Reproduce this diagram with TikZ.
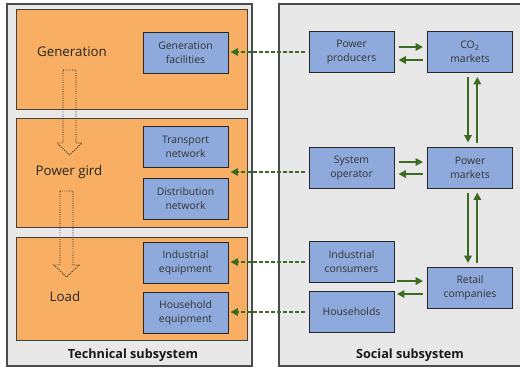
\documentclass[tikz,border=0pt]{standalone}
\usepackage{fontspec}
\setmainfont{Open Sans}
\usetikzlibrary{arrows.meta}
\definecolor{panelgray}{HTML}{E8E8E8}
\definecolor{techorange}{HTML}{F8AF63}
\definecolor{boxblue}{HTML}{8EA9DB}
\definecolor{linkgreen}{HTML}{3A6B21}
\tikzset{
  panel/.style={draw=black!70, fill=panelgray, line width=0.8pt},
  layer/.style={draw=black!75, fill=techorange, line width=0.75pt, minimum width=173.25pt, inner sep=0pt},
  unit/.style={draw=black!85, fill=boxblue, line width=0.75pt, minimum width=63.75pt, minimum height=30.75pt,
    align=center, font=\fontsize{7.8}{10.5}\selectfont, text=black!80, inner sep=1pt},
  flow/.style={linkgreen, line width=1.35pt, -{Triangle[length=5.5pt,width=5.5pt]}, shorten <=3pt, shorten >=3pt},
  couple/.style={linkgreen, line width=1.2pt, dash pattern=on 3pt off 1.5pt, -{Triangle[length=5.5pt,width=5.5pt]},
    shorten <=3pt, shorten >=1.5pt},
  hollow/.style={draw=black!85, densely dotted, line width=0.7pt},
  title/.style={font=\fontsize{10}{12}\selectfont, text=black!85},
  caption/.style={font=\fontsize{9.5}{12}\selectfont\bfseries, text=black!90}
}
\begin{document}
\begin{tikzpicture}[x=0.75pt, y=-0.75pt]
  \useasboundingbox (0,0) rectangle (520,368);
  % subsystems
  \begin{scope}
    \clip (0,0) rectangle (520,368);
    \draw[panel] (7,4) rectangle (252,366);
    \draw[panel] (279,4) rectangle (530,366);
  \end{scope}
  % technical layers
  \node[layer, minimum height=75pt] (gen) at (131.5,59) {};
  \node[layer, minimum height=81.75pt] (grid) at (131.5,172.5) {};
  \node[layer, minimum height=77.25pt] (load) at (131.5,288.5) {};
  \node[title] (genlbl) at (72,52) {Generation};
  \node[title] (gridlbl) at (69,172) {Power gird};
  \node[title] (loadlbl) at (65,296) {Load};
  \draw[hollow] (63,70) -- (76,70) -- (76,143) -- (82,143) -- (69.5,155) -- (57,143) -- (63,143) -- cycle;
  \draw[hollow] (60,191) -- (73,191) -- (73,265) -- (79,265) -- (66.5,277) -- (54,265) -- (60,265) -- cycle;
  % technical units
  \node[unit] (genfac) at (185.5,52.5) {Generation\\facilities};
  \node[unit] (trans) at (185.5,147) {Transport\\network};
  \node[unit] (dist) at (185.5,198.5) {Distribution\\network};
  \node[unit] (indeq) at (185.5,262.5) {Industrial\\equipment};
  \node[unit] (houseq) at (185.5,312.5) {Household\\equipment};
  \coordinate (gridin) at (185.5,172);
  % social actors
  \node[unit] (prod) at (351.5,52) {Power\\producers};
  \node[unit] (co2) at (470,52) {CO\textsubscript{2}\\markets};
  \node[unit] (sysop) at (351.5,167.5) {System\\operator};
  \node[unit] (pmkt) at (470,167.5) {Power\\markets};
  \node[unit] (indcons) at (351.5,262) {Industrial\\consumers};
  \node[unit] (house) at (351.5,312) {Households};
  \node[unit] (retail) at (470,288) {Retail\\companies};
  \node[caption] (techcap) at (133,355) {Technical subsystem};
  \node[caption] (soccap) at (410,355) {Social subsystem};
  % market links
  \begin{scope}[flow]
    \draw ([yshift=3.75pt]prod.east) -- ([yshift=3.75pt]co2.west);
    \draw ([yshift=-6pt]co2.west) -- ([yshift=-6pt]prod.east);
    \draw ([yshift=4.1pt]sysop.east) -- ([yshift=4.1pt]pmkt.west);
    \draw ([yshift=-4.9pt]pmkt.west) -- ([yshift=-4.9pt]sysop.east);
    \draw ([xshift=-1.5pt]co2.south) -- ([xshift=-1.5pt]pmkt.north);
    \draw ([xshift=5.5pt]pmkt.north) -- ([xshift=5.5pt]co2.south);
    \draw ([xshift=-1.5pt]pmkt.south) -- ([xshift=-1.5pt]retail.north);
    \draw ([xshift=5.5pt]retail.north) -- ([xshift=5.5pt]pmkt.south);
    \draw ([xshift=-25.5pt,yshift=5.25pt]retail.west) -- ([yshift=5.25pt]retail.west);
    \draw ([yshift=-4.5pt]retail.west) -- ([xshift=-25.5pt,yshift=-4.5pt]retail.west);
  \end{scope}
  % couplings
  \begin{scope}[couple]
    \draw (prod.west) -- (prod.west -| genfac.east);
    \draw (gridin -| sysop.west) -- (gridin -| trans.east);
    \draw (indcons.west) -- (indcons.west -| indeq.east);
    \draw (house.west) -- (house.west -| houseq.east);
  \end{scope}
\end{tikzpicture}
\end{document}
